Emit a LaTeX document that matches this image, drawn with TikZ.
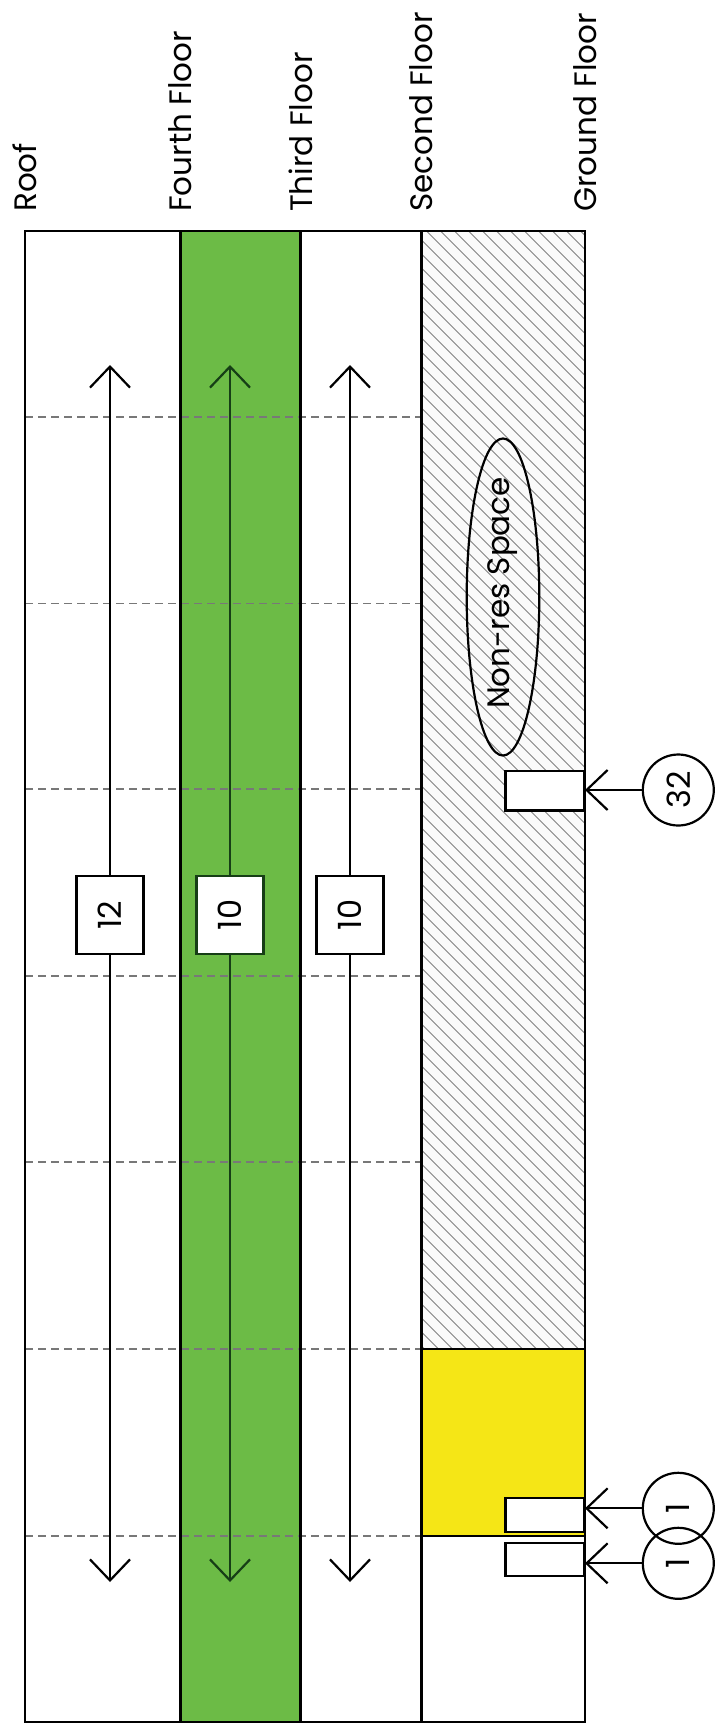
\documentclass[tikz,border=0pt]{standalone}
\usepackage{fontspec}
\setmainfont{Poppins}
\usetikzlibrary{arrows.meta}
\definecolor{floorgreen}{RGB}{108,187,70}
\definecolor{retailyellow}{RGB}{245,230,22}
\definecolor{deepgreen}{RGB}{22,62,22}
\definecolor{hatchgrey}{RGB}{130,130,130}
\definecolor{gridgrey}{RGB}{120,120,120}
\begin{document}
\begin{tikzpicture}[x=1pt,y=-1pt,line join=miter,
  every node/.style={font=\fontsize{31}{36}\selectfont},
  wall/.style={draw=black,line width=2.4pt},
  gridline/.style={draw=gridgrey,line width=1.4pt,dash pattern=on 8pt off 5pt},
  barb/.tip={Straight Barb[length=21pt,width=40pt]},
  span/.style={line width=2.2pt,barb-barb},
  feed/.style={line width=2.2pt,-barb},
  countbox/.style={draw,line width=2.4pt,fill=white,minimum width=66.7pt,minimum height=78pt,inner sep=0pt,font=\fontsize{32}{36}\selectfont},
  unitbox/.style={draw,line width=2.4pt,fill=white,inner sep=0pt,anchor=north east},
  tag/.style={draw,circle,line width=2.2pt,minimum size=71pt,inner sep=0pt,font=\fontsize{32}{36}\selectfont},
  floorlabel/.style={rotate=90,anchor=west,inner sep=0pt}]
\useasboundingbox (0,0) rectangle (715,1727);

% storey bands (drawn sideways: roof on the left, ground on the right)
\fill[floorgreen] (180.5,230.7) rectangle (300.5,1721.7);
\fill[gray!4] (421.5,230.7) rectangle (585,1349);
\begin{scope}
  \clip (421.5,230.7) rectangle (585,1349);
  \foreach \c in {-180,-166,...,1360}
    \draw[hatchgrey,line width=0.9pt] (421.5,\c) -- (585,\c+163.5);
\end{scope}
\fill[retailyellow] (421.5,1349) rectangle (585,1536);

% bay grid
\foreach \yy in {417,603.5,789,976,1162,1349,1536}
  \draw[gridline] (25,\yy) -- (421.5,\yy);

% walls and floor lines
\draw[wall] (25,230.7) rectangle (585,1721.7);
\foreach \xx in {180.5,300.5,421.5}
  \draw[wall] (\xx,230.7) -- (\xx,1721.7);
\draw[wall] (421.5,1349) -- (585,1349);
\draw[wall] (421.5,1536) -- (585,1536);

% floor labels
\node[floorlabel] (roof)   at (25,212)    {Roof};
\node[floorlabel] (fourth) at (180.5,212) {Fourth Floor};
\node[floorlabel] (third)  at (300.5,212) {Third Floor};
\node[floorlabel] (second) at (421.5,212) {Second Floor};
\node[floorlabel] (ground) at (585,212)   {Ground Floor};

% unit counts per residential floor
\coordinate (r4t) at (110,365);  \coordinate (r4b) at (110,1582);
\coordinate (r3t) at (230,365);  \coordinate (r3b) at (230,1582);
\coordinate (r2t) at (350,365);  \coordinate (r2b) at (350,1582);
\draw[span] (r4t) -- (r4b);
\draw[span,deepgreen] (r3t) -- (r3b);
\draw[span] (r2t) -- (r2b);
\node[countbox] (n4) at (110,915) {\rotatebox{90}{12}};
\node[countbox,draw=deepgreen] (n3) at (230,915) {\rotatebox{90}{10}};
\node[countbox] (n2) at (350,915) {\rotatebox{90}{10}};

% non-residential space
\draw[line width=2.2pt] (503,597) ellipse [x radius=36.3,y radius=158.5];
\node (nonres) at (503,593) {\rotatebox{90}{Non-res Space}};

% ground-level units with callouts
\node[unitbox,minimum width=78.3pt,minimum height=39.3pt] (u32) at (585,770) {};
\node[unitbox,minimum width=78.3pt,minimum height=33.7pt] (ua) at (585,1497) {};
\node[unitbox,minimum width=78.3pt,minimum height=33.3pt] (ub) at (585,1541.7) {};

\node[tag] (t32) at (678.3,790) {\rotatebox{90}{32}};
\node[tag] (ta)  at (678.3,1508.3) {\rotatebox{90}{1}};
\node[tag] (tb)  at (678.3,1563.3) {\rotatebox{90}{1}};

\coordinate (e32) at (585,790);
\coordinate (ea)  at (585,1508.3);
\coordinate (eb)  at (585,1563.3);
\draw[feed] (t32.west) -- (e32);
\draw[feed] (ta.west) -- (ea);
\draw[feed] (tb.west) -- (eb);
\end{tikzpicture}
\end{document}
